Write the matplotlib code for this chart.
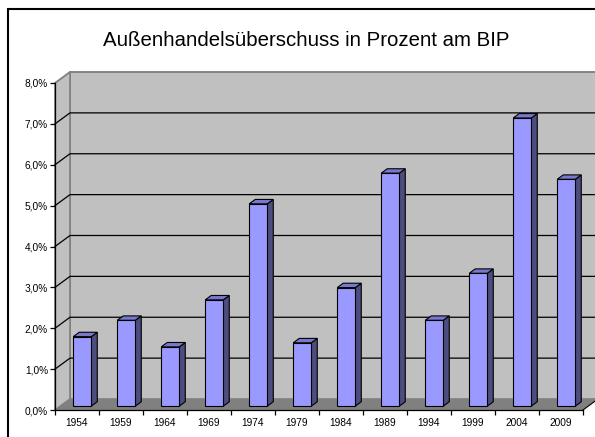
"""
Außenhandelsüberschuss in Prozent am BIP - Excel-style 3D column chart
"""

import matplotlib.pyplot as plt
from matplotlib.patches import Rectangle, Polygon
from matplotlib.ticker import FixedLocator

plt.rcParams['font.family'] = ['Liberation Sans', 'DejaVu Sans']

# data
years = ['1954', '1959', '1964', '1969', '1974', '1979',
         '1984', '1989', '1994', '1999', '2004', '2009']
values = [1.7, 2.1, 1.45, 2.6, 4.95, 1.55, 2.9, 5.7, 2.1, 3.25, 7.05, 5.55]
y_ticks = [0, 1, 2, 3, 4, 5, 6, 7, 8]
title = 'Außenhandelsüberschuss in Prozent am BIP'

W, H = 595, 437
fig = plt.figure(figsize=(W / 100, H / 100), dpi=100)

# front plane of the 3D box (pixels)
left_px, right_px, bottom_px, top_px = 55, 583, 410, 83
ax = fig.add_axes([left_px / W, 1 - bottom_px / H,
                   (right_px - left_px) / W, (bottom_px - top_px) / H])
n = len(years)
ax.set_xlim(-0.5, n - 0.5)
ax.set_ylim(0, 8)
ax.patch.set_visible(False)

# depth of the box in pixels -> data units
depth_px = (15, 11)
DX = depth_px[0] / ((right_px - left_px) / n)
DY = depth_px[1] / ((bottom_px - top_px) / 8)

def pt(x, y, d):
    return (x + d * DX, y + d * DY)

x0, x1 = -0.5, n - 0.5
wall = '#c0c0c0'
edge = '#808080'

# back wall, side wall, floor
ax.add_patch(Polygon([pt(x0, 0, 1), pt(x1 + 1, 0, 1), pt(x1 + 1, 8, 1), pt(x0, 8, 1)],
                     closed=True, fc=wall, ec=edge, lw=1.2, clip_on=False, zorder=0))
ax.add_patch(Polygon([pt(x0, 0, 0), pt(x0, 0, 1), pt(x0, 8, 1), pt(x0, 8, 0)],
                     closed=True, fc=wall, ec=edge, lw=1.2, clip_on=False, zorder=0))
ax.add_patch(Polygon([pt(x0, 0, 0), pt(x1, 0, 0), pt(x1, 0, 1), pt(x1 + 1, 0, 1), pt(x0, 0, 1)],
                     closed=True, fc='#808080', ec='none', clip_on=False, zorder=1))
ax.plot([x1, x1 + DX], [0, DY], color='black', lw=0.8, clip_on=False, zorder=1.5)

# gridlines on side and back wall
for v in y_ticks[1:]:
    c = 'black' if v < 8 else edge
    ax.plot([x0, x0 + DX, x1 + 1], [v, v + DY, v + DY], color=c, lw=0.9,
            clip_on=False, zorder=1)

# bars
bw = 0.41
d1, d2 = 0.35, 0.75
front_c, side_c, top_c = '#9999ff', '#4d4d80', '#7878cc'
for i, v in enumerate(values):
    xr = i + bw / 2
    xl = i - bw / 2
    ax.add_patch(Polygon([pt(xr, 0, d1), pt(xr, 0, d2), pt(xr, v, d2), pt(xr, v, d1)],
                         closed=True, fc=side_c, ec='black', lw=0.8, clip_on=False, zorder=3))
    ax.add_patch(Polygon([pt(xl, v, d1), pt(xr, v, d1), pt(xr, v, d2), pt(xl, v, d2)],
                         closed=True, fc=top_c, ec='black', lw=0.8, clip_on=False, zorder=3))
ax.bar([i + d1 * DX for i in range(n)], values, width=bw, bottom=d1 * DY,
       color=front_c, edgecolor='black', linewidth=0.8, zorder=4)

# axes
for s in ['top', 'right']:
    ax.spines[s].set_visible(False)
for s in ['left', 'bottom']:
    ax.spines[s].set_linewidth(0.9)
    ax.spines[s].set_zorder(5)

ax.set_yticks(y_ticks)
ax.set_yticklabels([f'{v:.1f}%'.replace('.', ',') for v in y_ticks])
ax.tick_params(axis='y', length=3.6, width=0.9, pad=1.5, labelsize=7.3, direction='out')

ax.xaxis.set_major_locator(FixedLocator([i - 0.5 for i in range(n + 1)]))
ax.xaxis.set_major_formatter(plt.NullFormatter())
ax.xaxis.set_minor_locator(FixedLocator(list(range(n))))
ax.set_xticklabels(years, minor=True)
ax.tick_params(axis='x', which='major', length=3.6, width=0.9, direction='out')
ax.tick_params(axis='x', which='minor', length=0, pad=6, labelsize=7.3)

fig.text(306 / W, 1 - 46 / H, title, ha='center', va='baseline', fontsize=14.7)

# chart border
fig.add_artist(Rectangle((7.5 / W, -0.1), 1.2, 1 - 9 / H + 0.1, transform=fig.transFigure,
                         fill=False, ec='black', lw=1.5))

fig.savefig('out.png', dpi=100)
